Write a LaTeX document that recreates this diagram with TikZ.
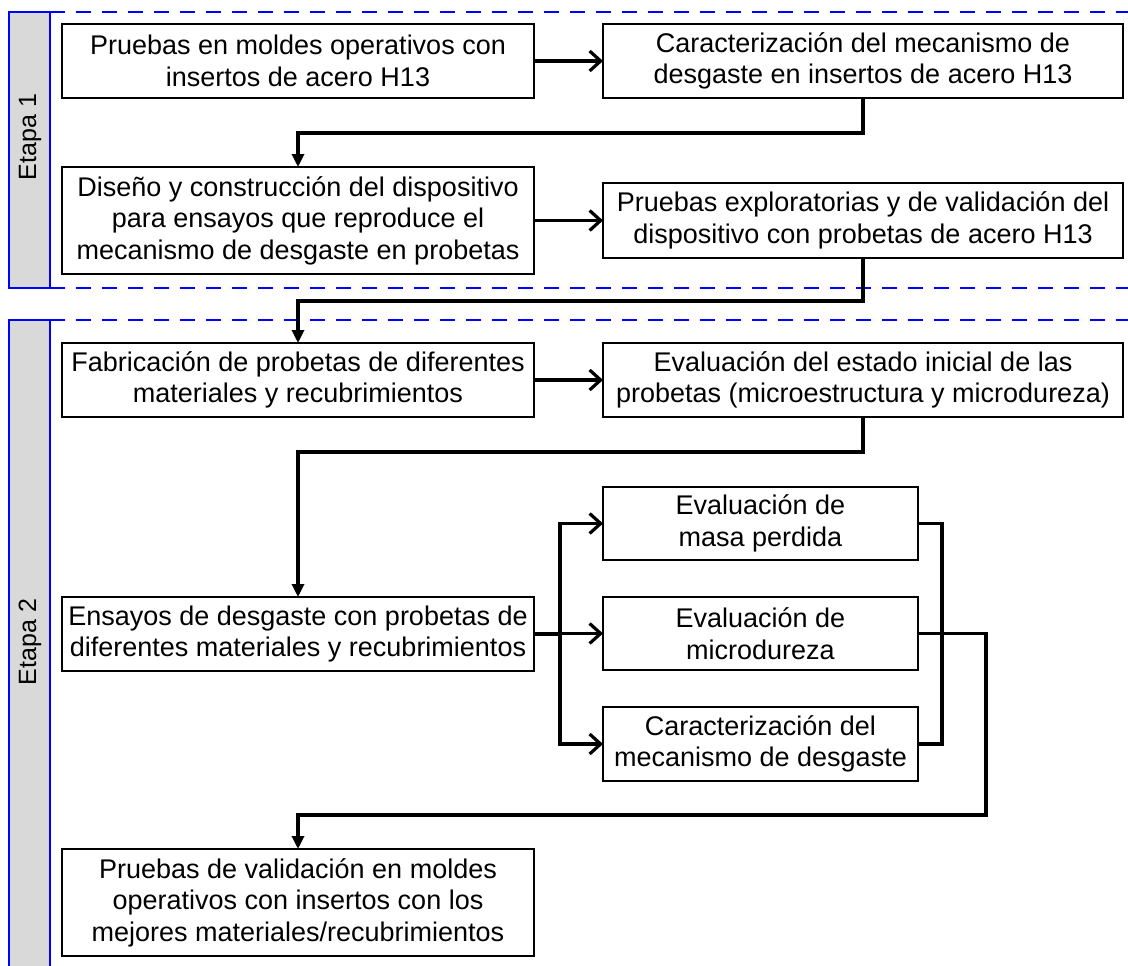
\documentclass[tikz,border=0pt]{standalone}
\usepackage{fontspec}
\setmainfont{Liberation Sans}
\usetikzlibrary{arrows.meta}
\definecolor{bandgray}{RGB}{217,217,217}
\definecolor{bandblue}{RGB}{0,0,255}
\begin{document}
\begin{tikzpicture}[x=1pt,y=-1pt,
  every node/.style={inner sep=0pt,outer sep=0pt},
  stepbox/.style={draw=black,line width=1.8pt,fill=white,align=center,
    font=\fontsize{27}{31.5}\selectfont,minimum height=74pt},
  widebox/.style={stepbox,minimum width=472pt},
  rightbox/.style={stepbox,minimum width=520pt},
  smallbox/.style={stepbox,minimum width=315pt},
  link/.style={line width=3.2pt,line cap=butt,line join=miter},
  harrow/.style={link,-{Straight Barb[length=11pt,width=20pt]}},
  varrow/.style={link,-{Triangle[length=13pt,width=12pt]}},
  bandframe/.style={draw=bandblue,line width=2pt,fill=bandgray},
  bandline/.style={draw=bandblue,line width=2pt,dash pattern=on 15pt off 11pt},
  bandlabel/.style={rotate=90,font=\fontsize{25}{30}\selectfont}]
\useasboundingbox (0,0) rectangle (1128,966);
\clip (0,0) rectangle (1128,966);
\fill[white] (0,0) rectangle (1128,966);

% stage bands
\draw[bandframe] (9,12) rectangle (50,288);
\draw[bandline] (50,12) -- (1128,12);
\draw[bandline] (50,288) -- (1128,288);
\node[bandlabel] (etapa1) at (30,137) {Etapa 1};

\draw[bandframe] (9,320) rectangle (50,990);
\draw[bandline] (50,320) -- (1128,320);
\node[bandlabel] (etapa2) at (30,642) {Etapa 2};

% stage 1
\node[widebox] (A) at (298,61) {Pruebas en moldes operativos con\\insertos de acero H13};
\node[rightbox] (B) at (863,61) {Caracterización del mecanismo de\\desgaste en insertos de acero H13};
\node[widebox,minimum height=107pt] (C) at (298,220.5) {Diseño y construcción del dispositivo\\para ensayos que reproduce el\\mecanismo de desgaste en probetas};
\node[rightbox,minimum height=75pt] (D) at (863,220.5) {Pruebas exploratorias y de validación del\\dispositivo con probetas de acero H13};

% stage 2
\node[widebox] (E) at (298,380) {Fabricación de probetas de diferentes\\materiales y recubrimientos};
\node[rightbox] (F) at (863,380) {Evaluación del estado inicial de las\\probetas (microestructura y microdureza)};
\node[widebox] (G) at (298,634) {Ensayos de desgaste con probetas de\\diferentes materiales y recubrimientos};
\node[smallbox,minimum height=73pt] (H) at (760.5,523.5) {Evaluación de\\masa perdida};
\node[smallbox,minimum height=73pt] (I) at (760.5,633.5) {Evaluación de\\microdureza};
\node[smallbox] (J) at (760.5,744) {Caracterización del\\mecanismo de desgaste};
\node[widebox,minimum height=107pt] (K) at (298,902.5) {Pruebas de validación en moldes\\operativos con insertos con los\\mejores materiales/recubrimientos};

% routing points
\coordinate (fork) at (560,634);
\coordinate (merge) at (942,634);
\coordinate (outI) at (986,634);

% connectors
\draw[harrow] (A.east) -- (B.west);
\draw[varrow] (B.south) -- (B.south |- 0,133) -| (C.north);
\draw[harrow] (C.east) -- (D.west);
\draw[varrow] (D.south) -- (D.south |- 0,301) -| (E.north);
\draw[harrow] (E.east) -- (F.west);
\draw[varrow] (F.south) -- (F.south |- 0,452) -| (G.north);

\draw[link] (G.east) -- (fork);
\draw[harrow] (fork) |- (H.west);
\draw[harrow] (fork) -- (fork |- I.west) -- (I.west);
\draw[harrow] (fork) |- (J.west);

\draw[link] (H.east) -| (merge) |- (J.east);
\draw[varrow] (I.east) -- (outI |- I.east) -- (outI |- 0,815) -| (K.north);
\end{tikzpicture}
\end{document}
